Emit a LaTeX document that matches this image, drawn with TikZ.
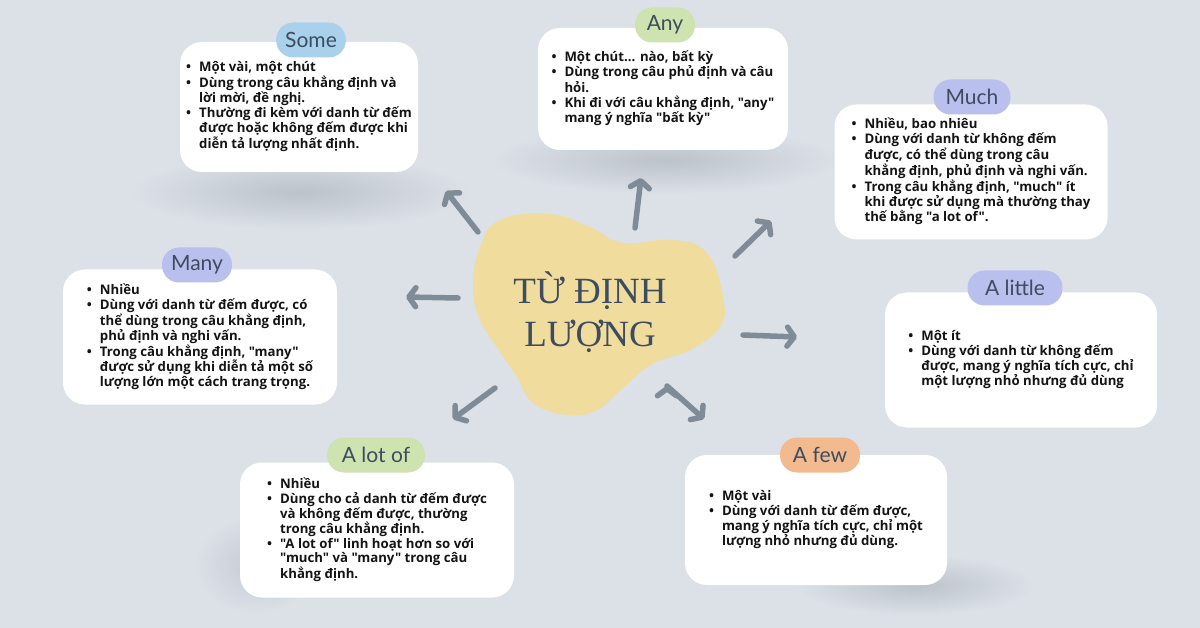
\documentclass[tikz,border=0pt]{standalone}
\usepackage{fontspec}
\newfontfamily\bodyfont{Open Sans}
\newfontfamily\titlefont{Liberation Serif}
\newfontfamily\tagfont{Lato}
\usepackage{xcolor}
\usetikzlibrary{arrows.meta}
\usetikzlibrary{positioning}
\definecolor{bgc}{HTML}{DCE1E8}
\definecolor{shadowc}{HTML}{BCC2CA}
\definecolor{blobc}{HTML}{F0DC9C}
\definecolor{arrowc}{HTML}{7F8B96}
\definecolor{inkc}{HTML}{3D4C5E}
\definecolor{bluetag}{HTML}{A9D1EC}
\definecolor{greentag}{HTML}{CFE3B0}
\definecolor{lilactag}{HTML}{BAC0EE}
\definecolor{orangetag}{HTML}{F3BA90}
\newcommand{\notes}[1]{\begin{tabular}{@{}l@{\hspace{8pt}}l@{}}#1\end{tabular}}
\newcommand{\dotitem}{\textbullet}

\begin{document}
\begin{tikzpicture}[x=1pt, y=-1pt, >={Straight Barb[round, length=7pt, width=19pt]},
    card/.style={fill=white, rounded corners=22, inner sep=0pt, text=black!92,
                 font=\bodyfont\bfseries\fontsize{13.2}{14}\selectfont},
    tag/.style={rounded corners=17, minimum height=35, inner xsep=9,
                text=inkc, font=\tagfont\fontsize{21}{24}\selectfont},
    arrow/.style={draw=arrowc, line width=5.5pt, line cap=round}]
  \fill[bgc] (0,0) rectangle (1200,628);
  \useasboundingbox (0,0) rectangle (1200,628);

  % soft shadows
  \shade[inner color=shadowc, outer color=bgc] (300,192) ellipse (170 and 38);
  \shade[inner color=shadowc, outer color=bgc] (665,160) ellipse (175 and 34);
  \shade[inner color=shadowc, outer color=bgc] (915,585) ellipse (120 and 30);
  \shade[inner color=shadowc!70!bgc, outer color=bgc] (255,565) ellipse (60 and 50);

  % blob in the middle
  \fill[blobc] plot[smooth cycle, tension=0.7] coordinates {
    (500,220) (550,214) (592,228) (623,243) (673,240) (707,253) (723,297)
    (720,327) (690,350) (652,364) (623,388) (597,410) (567,415) (533,403)
    (517,377) (500,352) (480,320) (473,287) (480,247)};
  \node[font=\titlefont\fontsize{37}{43}\selectfont, text=inkc, align=center]
    (hub) at (590,312) {TỪ ĐỊNH\\LƯỢNG};

  % boxes
  \node[card, minimum width=238, minimum height=130] (some) at (299,107) {\notes{
    \dotitem & Một vài, một chút\\
    \dotitem & Dùng trong câu khẳng định và\\
            & lời mời, đề nghị.\\
    \dotitem & Thường đi kèm với danh từ đếm\\
            & được hoặc không đếm được khi\\
            & diễn tả lượng nhất định.}};
  \node[card, minimum width=250, minimum height=122] (any) at (663,89) {\notes{
    \dotitem & Một chút... nào, bất kỳ\\
    \dotitem & Dùng trong câu phủ định và câu\\
            & hỏi.\\
    \dotitem & Khi đi với câu khẳng định, "any"\\
            & mang ý nghĩa "bất kỳ"}};
  \node[card, minimum width=273, minimum height=135] (much) at (971,172) {\notes{
    \dotitem & Nhiều, bao nhiêu\\
    \dotitem & Dùng với danh từ không đếm\\
            & được, có thể dùng trong câu\\
            & khẳng định, phủ định và nghi vấn.\\
    \dotitem & Trong câu khẳng định, "much" ít\\
            & khi được sử dụng mà thường thay\\
            & thế bằng "a lot of".}};
  \node[card, minimum width=274, minimum height=135] (many) at (200,337) {\notes{
    \dotitem & Nhiều\\
    \dotitem & Dùng với danh từ đếm được, có\\
            & thể dùng trong câu khẳng định,\\
            & phủ định và nghi vấn.\\
    \dotitem & Trong câu khẳng định, "many"\\
            & được sử dụng khi diễn tả một số\\
            & lượng lớn một cách trang trọng.}};
  \node[card, minimum width=272, minimum height=135] (little) at (1021,360) {\notes{
    \dotitem & Một ít\\
    \dotitem & Dùng với danh từ không đếm\\
            & được, mang ý nghĩa tích cực, chỉ\\
            & một lượng nhỏ nhưng đủ dùng}};
  \node[card, minimum width=274, minimum height=135] (lotof) at (377,530) {\notes{
    \dotitem & Nhiều\\
    \dotitem & Dùng cho cả danh từ đếm được\\
            & và không đếm được, thường\\
            & trong câu khẳng định.\\
    \dotitem & "A lot of" linh hoạt hơn so với\\
            & "much" và "many" trong câu\\
            & khẳng định.}};
  \node[card, minimum width=262, minimum height=130] (few) at (816,520) {\notes{
    \dotitem & Một vài\\
    \dotitem & Dùng với danh từ đếm được,\\
            & mang ý nghĩa tích cực, chỉ một\\
            & lượng nhỏ nhưng đủ dùng.}};

  % tags
  \node[tag, fill=bluetag, minimum width=67] (t-some) at (311,40) {Some};
  \node[tag, fill=greentag, minimum width=60] (t-any) at (665,25) {Any};
  \node[tag, fill=lilactag, minimum width=77] (t-much) at (972,97) {Much};
  \node[tag, fill=lilactag, minimum width=70] (t-many) at (197,265) {Many};
  \node[tag, fill=lilactag, minimum width=95] (t-little) at (1015,288) {A little};
  \node[tag, fill=greentag, minimum width=98] (t-lotof) at (376,455) {A lot of};
  \node[tag, fill=orangetag, minimum width=80] (t-few) at (820,455) {A few};

  % arrows
  \coordinate (from-some) at (478,232);   \coordinate (to-some) at (446,191);
  \coordinate (from-any) at (635,228);    \coordinate (to-any) at (641,178);
  \coordinate (from-much) at (735,256);   \coordinate (to-much) at (771,221);
  \coordinate (from-many) at (458,298);   \coordinate (to-many) at (406,297);
  \coordinate (from-little) at (743,335); \coordinate (to-little) at (797,337);
  \coordinate (from-lotof) at (495,388);  \coordinate (to-lotof) at (453,419);
  \coordinate (from-few) at (667,386);    \coordinate (to-few) at (704,419);
  \path[->, arrow] (from-some) edge (to-some)
                   (from-any) edge (to-any)
                   (from-much) edge (to-much)
                   (from-many) edge (to-many)
                   (from-little) edge (to-little)
                   (from-lotof) edge (to-lotof)
                   (from-few) edge (to-few);
\end{tikzpicture}
\end{document}
